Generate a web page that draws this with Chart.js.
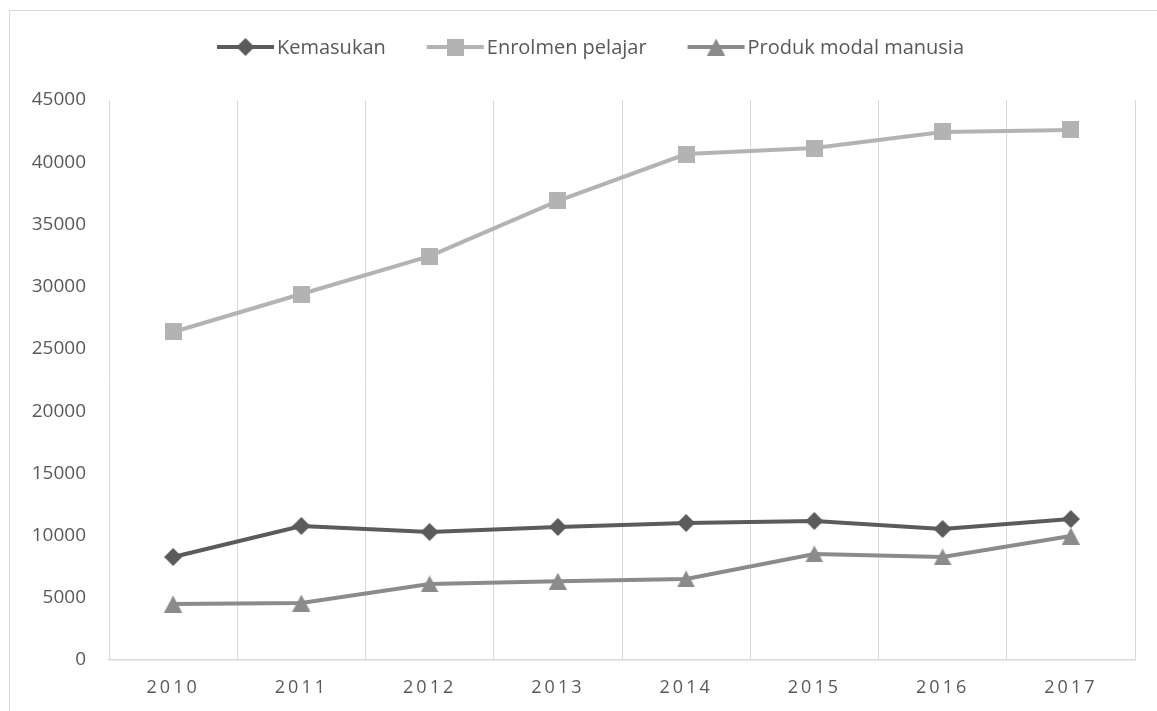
<!DOCTYPE html>
<html>
<head>
<meta charset="utf-8">
<script src="https://cdn.jsdelivr.net/npm/chart.js@4"></script>
<style>
  html, body { margin: 0; padding: 0; background: #fff; }
  canvas { display: block; }
</style>
</head>
<body>
<canvas id="chart" width="1157" height="711"></canvas>
<script>
// values
const years = ["2010", "2011", "2012", "2013", "2014", "2015", "2016", "2017"];
const kemasukan = [8280, 10770, 10290, 10690, 11010, 11170, 10530, 11330];
const enrolmen = [26360, 29410, 32460, 36890, 40660, 41140, 42430, 42590];
const produk = [4500, 4580, 6110, 6330, 6510, 8520, 8280, 9960];
const yTicks = [0, 5000, 10000, 15000, 20000, 25000, 30000, 35000, 40000, 45000];

const textColor = "#595959";
const gridColor = "#d9d9d9";

// little canvases used as markers (plot + legend)
function marker(kind, color) {
  const c = document.createElement("canvas");
  const w = kind === "square" ? 17 : 18;
  const h = kind === "diamond" ? 18 : 17;
  c.width = w; c.height = h;
  const g = c.getContext("2d");
  g.fillStyle = color;
  g.beginPath();
  if (kind === "diamond") {
    g.moveTo(w / 2, 0); g.lineTo(w, h / 2); g.lineTo(w / 2, h); g.lineTo(0, h / 2);
  } else if (kind === "square") {
    g.rect(0, 0, w, h);
  } else {
    g.moveTo(w / 2, 0); g.lineTo(w, h); g.lineTo(0, h);
  }
  g.closePath();
  g.fill();
  return c;
}

const series = [
  { label: "Kemasukan", data: kemasukan, color: "#5b5b5b", shape: "diamond", order: 2 },
  { label: "Enrolmen pelajar", data: enrolmen, color: "#b3b3b3", shape: "square", order: 3 },
  { label: "Produk modal manusia", data: produk, color: "#8b8b8b", shape: "triangle", order: 1 }
];
series.forEach(s => { s.img = marker(s.shape, s.color); });

const frameAndLegend = {
  id: "frameAndLegend",
  beforeDraw(chart) {
    const ctx = chart.ctx;
    ctx.save();
    ctx.fillStyle = "#fff";
    ctx.fillRect(0, 0, chart.width, chart.height);
    ctx.strokeStyle = gridColor;
    ctx.lineWidth = 1;
    ctx.strokeRect(9.5, 10.5, chart.width + 20, chart.height + 20);
    ctx.restore();
  },
  afterDraw(chart) {
    const ctx = chart.ctx;
    ctx.save();
    ctx.font = '20px "Open Sans", sans-serif';
    ctx.textBaseline = "middle";
    const lineLen = 57, gapText = 3, gapItem = 41, y = 47;
    const widths = series.map(s => lineLen + gapText + ctx.measureText(s.label).width);
    const total = widths.reduce((a, b) => a + b, 0) + gapItem * (series.length - 1);
    let x = chart.width / 2 + 12 - total / 2;
    series.forEach((s, i) => {
      ctx.strokeStyle = s.color;
      ctx.lineWidth = 4;
      ctx.beginPath();
      ctx.moveTo(x, y); ctx.lineTo(x + lineLen, y);
      ctx.stroke();
      ctx.drawImage(s.img, x + lineLen / 2 - s.img.width / 2, y - s.img.height / 2);
      ctx.fillStyle = textColor;
      ctx.fillText(s.label, x + lineLen + gapText, y + 1);
      x += widths[i] + gapItem;
    });
    ctx.restore();
  },
  afterLayout(chart) {
    // spaced-out year labels like the original
    const xs = chart.scales.x;
    if (xs && !xs._spaced) {
      const orig = xs.drawLabels;
      xs.drawLabels = function (area) {
        const c = this.ctx;
        const prev = c.letterSpacing;
        c.letterSpacing = "3px";
        orig.call(this, area);
        c.letterSpacing = prev;
      };
      xs._spaced = true;
    }
  }
};

new Chart(document.getElementById("chart"), {
  type: "line",
  data: {
    labels: years,
    datasets: series.map(s => ({
      label: s.label,
      data: s.data,
      borderColor: s.color,
      backgroundColor: s.color,
      borderWidth: 4,
      pointStyle: s.img,
      pointRadius: 9,
      pointHoverRadius: 9,
      pointBorderWidth: 0,
      tension: 0,
      fill: false,
      order: s.order
    }))
  },
  options: {
    responsive: false,
    animation: false,
    layout: { padding: { left: 10, right: 22, top: 100, bottom: 0 } },
    plugins: {
      legend: { display: false },
      tooltip: { enabled: false }
    },
    scales: {
      x: {
        offset: true,
        grid: { display: true, offset: true, color: gridColor, lineWidth: 1, drawTicks: false },
        border: { display: true, color: gridColor, width: 1.5 },
        ticks: {
          color: textColor,
          font: { family: '"Open Sans", sans-serif', size: 18 },
          padding: 17,
          maxRotation: 0
        },
        afterFit(scale) { scale.height = 51; }
      },
      y: {
        min: 0,
        max: 45000,
        grid: { display: false, drawTicks: false },
        border: { display: false },
        afterBuildTicks(scale) { scale.ticks = yTicks.map(v => ({ value: v })); },
        ticks: {
          color: textColor,
          font: { family: '"Open Sans", sans-serif', size: 19 },
          padding: 23,
          callback: v => String(v)
        },
        afterFit(scale) { scale.width = 99; }
      }
    }
  },
  plugins: [frameAndLegend]
});
</script>
</body>
</html>
